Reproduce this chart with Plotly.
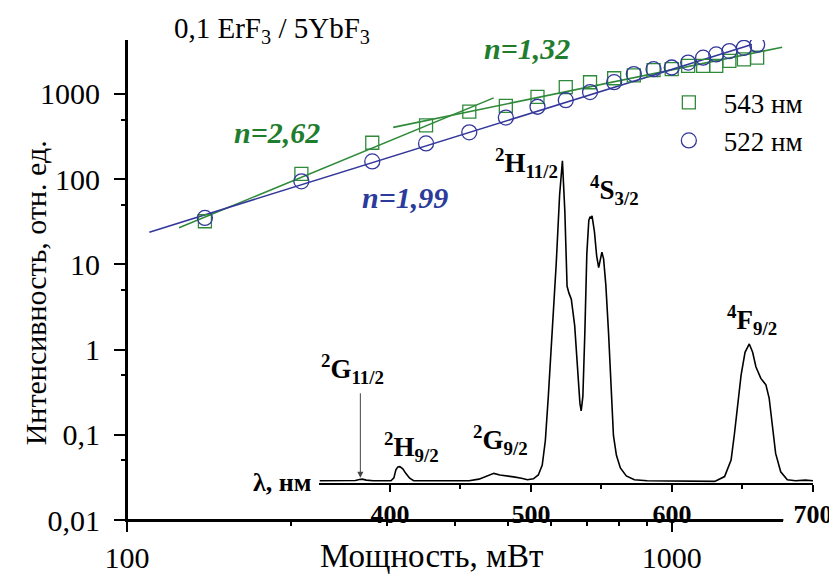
import math
import plotly.graph_objects as go

# ---------------- data ----------------
power_mw = [139, 209, 282, 354, 425, 496, 567, 639, 708, 784, 852, 926,
            1000, 1072, 1142, 1207, 1276, 1357, 1435]
int_543 = [32.1, 115.7, 267.6, 428, 620, 727, 924, 1204, 1374, 1530, 1655,
           1905, 1956, 2140, 2140, 2140, 2445, 2551, 2668]
int_522 = [35.1, 94.3, 161.6, 263, 355, 529, 708, 846, 1054, 1375, 1714,
           1956, 2046, 2337, 2668, 2912, 3186, 3480, 3796]

# fitted power-law lines (end points)
fit_522_x = [109.9, 1403]
fit_522_y = [23.9, 3818]
fit_543a_x = [124.6, 471.3]
fit_543a_y = [26.9, 900]
fit_543b_x = [308.1, 1595]
fit_543b_y = [405.8, 3544]

# emission spectrum (wavelength, nm ; relative intensity, peak = 100)
wl = [350.0, 368.4, 375.5, 378.3, 380.4, 383.2, 388.1, 400.7, 402.8, 404.2,
      405.6, 407.0, 409.1, 411.2, 414.0, 416.8, 456.1, 463.1, 469.5, 473.7,
      477.9, 482.8, 487.7, 493.3, 497.5, 501.7, 505.2, 508.0, 510.2, 512.3,
      515.1, 517.9, 520.3, 522.3, 524.0, 525.6, 527.0, 528.6, 531.0, 533.3,
      534.7, 535.6, 536.8, 538.2, 539.6, 541.0, 541.9, 542.7, 543.3, 545.0,
      546.6, 548.0, 549.4, 550.3, 551.5, 553.1, 555.0, 556.8, 558.5, 560.6,
      563.4, 567.6, 573.3, 582.4, 630.3, 637.3, 641.9, 644.3, 646.7, 649.0,
      651.8, 654.8, 657.2, 659.5, 663.0, 666.6, 668.9, 671.2, 673.5, 677.1,
      681.8, 687.6, 694.6, 700.0]
spec = [0.6, 0.6, 0.7, 1.0, 1.1, 0.8, 0.6, 0.6, 1.5, 4.0,
        4.9, 5.0, 4.3, 2.9, 1.4, 0.6, 0.6, 1.1, 2.3, 2.9,
        2.4, 2.0, 1.8, 1.4, 0.9, 1.2, 2.4, 5.5, 13.1, 26.8,
        46.6, 68.0, 89.3, 100.0, 84.5, 61.0, 58.8, 57.0, 48.8, 31.4,
        24.7, 22.3, 26.8, 46.6, 71.0, 81.4, 82.6, 82.0, 82.9, 78.0,
        70.4, 66.8, 70.4, 71.6, 69.5, 61.3, 46.6, 28.4, 14.6, 8.5,
        4.6, 2.1, 0.9, 0.6, 0.4, 1.9, 7.0, 15.2, 25.3, 33.4,
        40.5, 43.1, 40.5, 36.0, 32.4, 30.4, 26.3, 17.2, 9.1, 3.4,
        0.9, 0.6, 0.8, 0.6]

x_major = [100, 1000]
x_major_text = ["100", "1000"]
x_minor = [200, 300, 400, 500, 600, 700, 800, 900]
y_major = [0.01, 0.1, 1, 10, 100, 1000]
y_major_text = ["0,01", "0,1", "1", "10", "100", "1000"]
y_minor = [0.05, 0.5, 5, 50, 500]
wl_major = [400, 500, 600, 700]
wl_minor = [450, 550, 650]

# ---------------- layout helpers ----------------
W, H = 837, 578
L, R, T, B = 119, 813, 32, 521


def px(x):
    return (x - L) / (R - L)


def py(y):
    return (B - y) / (B - T)


SERIF = "Liberation Serif"
GREEN = "#2f8a3a"
GREEN_TXT = "#1f7d2e"
BLUE = "#33379a"
BLUE_TXT = "#2b3b9c"

X_RANGE = [2, math.log10(1603)]
Y_RANGE = [-2, math.log10(4301)]
X_DOMAIN = [0, px(783)]
AXW = 2

fig = go.Figure()

# fit lines
fig.add_trace(go.Scatter(x=fit_543a_x, y=fit_543a_y, mode="lines",
                         line=dict(color=GREEN, width=1.6), showlegend=False))
fig.add_trace(go.Scatter(x=fit_543b_x, y=fit_543b_y, mode="lines",
                         line=dict(color=GREEN, width=1.6), showlegend=False))
fig.add_trace(go.Scatter(x=fit_522_x, y=fit_522_y, mode="lines",
                         line=dict(color=BLUE, width=1.6), showlegend=False))

# data points
fig.add_trace(go.Scatter(x=power_mw, y=int_543, mode="markers", name="543 нм",
                         marker=dict(symbol="square-open", size=13, color=GREEN,
                                     line=dict(width=1.3))))
fig.add_trace(go.Scatter(x=power_mw, y=int_522, mode="markers", name="522 нм",
                         marker=dict(symbol="circle-open", size=15, color=BLUE,
                                     line=dict(width=1.3))))

# spectrum (inset axis)
fig.add_trace(go.Scatter(x=wl, y=spec, mode="lines", xaxis="x2", yaxis="y2",
                         line=dict(color="black", width=1.6),
                         showlegend=False, hoverinfo="skip"))

# empty traces that carry the minor-tick overlay axes
fig.add_trace(go.Scatter(x=[], y=[], xaxis="x3", yaxis="y", showlegend=False))
fig.add_trace(go.Scatter(x=[], y=[], xaxis="x", yaxis="y3", showlegend=False))

tick_common = dict(showgrid=False, zeroline=False, ticks="outside",
                   tickcolor="black", tickwidth=1.5)

fig.update_layout(
    width=W, height=H,
    margin=dict(l=L, r=W - R, t=T, b=H - B),
    paper_bgcolor="white", plot_bgcolor="rgba(0,0,0,0)",
    font=dict(family=SERIF, color="black", size=28),
    xaxis=dict(type="log", range=X_RANGE, domain=X_DOMAIN, anchor="y",
               tickmode="array", tickvals=x_major, ticktext=x_major_text,
               ticklen=10, tickfont=dict(size=30, family=SERIF),
               showline=True, linecolor="black", linewidth=AXW,
               **tick_common),
    xaxis3=dict(type="log", range=X_RANGE, domain=X_DOMAIN, anchor="y",
                overlaying="x", side="bottom",
                tickmode="array", tickvals=x_minor, ticklen=5,
                showticklabels=False, showline=False, **tick_common),
    yaxis=dict(type="log", range=Y_RANGE, domain=[0, 1], anchor="x",
               tickmode="array", tickvals=y_major, ticktext=y_major_text,
               ticklen=11, ticklabelstandoff=8,
               tickfont=dict(size=30, family=SERIF),
               showline=True, linecolor="black", linewidth=AXW,
               **tick_common),
    yaxis3=dict(type="log", range=Y_RANGE, domain=[0, 1], anchor="x",
                overlaying="y", side="left",
                tickmode="array", tickvals=y_minor, ticklen=5,
                showticklabels=False, showline=False, **tick_common),
    xaxis2=dict(range=[350, 700], domain=[px(313.7), 1], anchor="y2",
                tickmode="array", tickvals=wl_major, ticklen=7,
                tickfont=dict(size=26, family=SERIF, weight="bold"),
                showline=True, linecolor="black", linewidth=AXW,
                minor=dict(tickmode="array", tickvals=wl_minor, ticklen=4,
                           ticks="outside", tickcolor="black", tickwidth=1.5,
                           showgrid=False),
                **tick_common),
    yaxis2=dict(range=[0, 137.5], domain=[py(483), 1], anchor="x2",
                showline=False, showticklabels=False, ticks="",
                showgrid=False, zeroline=False),
    legend=dict(x=px(652), y=py(71), xanchor="left", yanchor="top",
                bgcolor="rgba(0,0,0,0)", borderwidth=0, itemwidth=60,
                font=dict(size=27, family=SERIF), tracegroupgap=0),
)

# main axis lines (frame decorations in paper coordinates)
fig.add_shape(type="line", xref="paper", yref="paper", x0=0, x1=px(783),
              y0=0, y1=0, line=dict(color="black", width=AXW), layer="above")
fig.add_shape(type="line", xref="paper", yref="paper", x0=0, x1=0,
              y0=0, y1=1, line=dict(color="black", width=AXW), layer="above")

ann = []


def add_text(text, x, y, size=28, color="black", xanchor="center",
             yanchor="middle", angle=0):
    ann.append(dict(text=text, x=px(x), y=py(y), xref="paper", yref="paper",
                    showarrow=False, xanchor=xanchor, yanchor=yanchor,
                    textangle=angle,
                    font=dict(size=size, color=color, family=SERIF)))


add_text("0,1 ErF<sub>3</sub> / 5YbF<sub>3</sub>", 266, 22, size=29)
add_text("<b><i>n=2,62</i></b>", 271, 126, size=30, color=GREEN_TXT)
add_text("<b><i>n=1,99</i></b>", 400, 192, size=30, color=BLUE_TXT)
add_text("<b><i>n=1,32</i></b>", 524, 41, size=30, color=GREEN_TXT)
add_text("<b><sup>2</sup>H<sub>11/2</sub></b>", 523, 157, size=27)
add_text("<b><sup>4</sup>S<sub>3/2</sub></b>", 612, 185, size=27)
add_text("<b><sup>4</sup>F<sub>9/2</sub></b>", 751, 317, size=27)
add_text("<b><sup>2</sup>G<sub>11/2</sub></b>", 347, 367, size=27)
add_text("<b><sup>2</sup>H<sub>9/2</sub></b>", 407, 447, size=27)
add_text("<b><sup>2</sup>G<sub>9/2</sub></b>", 497, 439, size=27)
add_text("<b>λ, нм</b>", 307, 483, size=26, xanchor="right")
add_text("Мощность, мВт", 427, 578, size=33, yanchor="bottom")
add_text("Интенсивность, отн. ед.", 26, 290, size=30, angle=-90)

# arrow pointing at the 2G11/2 band
ann.append(dict(text="", x=379, y=py(478), xref="x2", yref="paper",
                showarrow=True, ax=0, ay=-86, axref="pixel", ayref="pixel",
                arrowhead=2, arrowsize=1.2, arrowwidth=1, arrowcolor="#444"))

fig.update_layout(annotations=ann)

fig.write_html("out.html")
